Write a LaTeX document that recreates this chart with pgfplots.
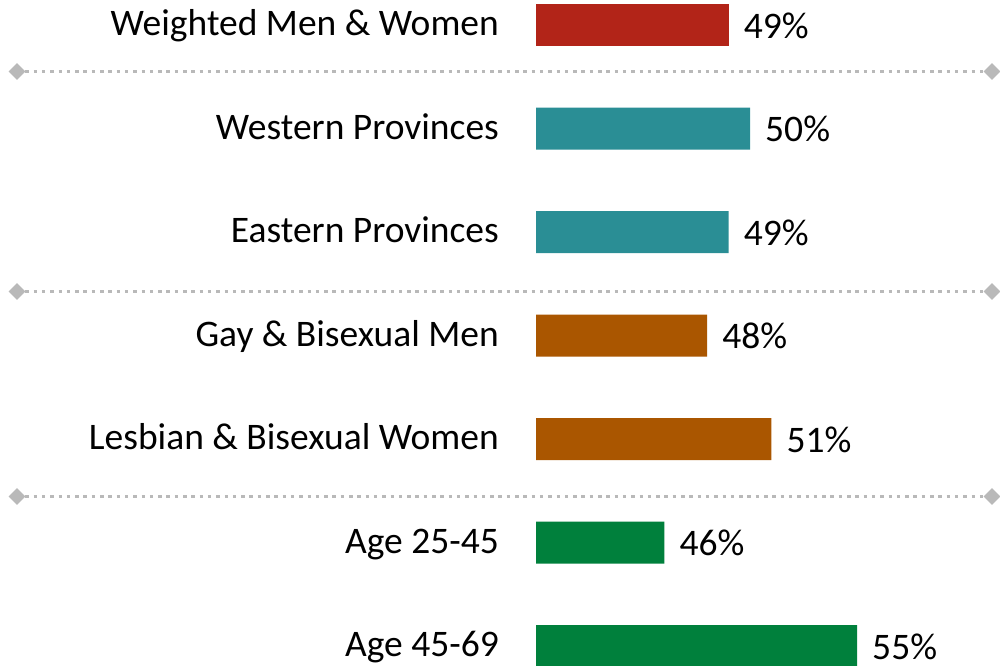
\documentclass[border=0pt]{standalone}
\usepackage{fontspec}
\setmainfont{Carlito}
\usepackage{pgfplots}
\pgfplotsset{compat=1.18}
\usetikzlibrary{shapes.geometric}

\definecolor{barred}{RGB}{178,36,24}
\definecolor{barteal}{RGB}{42,142,149}
\definecolor{barorange}{RGB}{170,86,0}
\definecolor{bargreen}{RGB}{0,128,60}
\definecolor{sepgray}{RGB}{185,185,185}

\tikzset{
  sepline/.style={sepgray, line width=3.5pt, dash pattern=on 3.5pt off 4.8pt},
  sepend/.style={diamond, fill=sepgray, inner sep=0pt, minimum width=17pt, minimum height=17pt},
}

\begin{document}
\begin{tikzpicture}
\path[use as bounding box] (0pt,0pt) rectangle (1000pt,665pt);

% separators between groups
\foreach \yy in {593.5,373.5,168.5}{
  \draw[sepline] (17pt,\yy pt) -- (992pt,\yy pt);
  \node[sepend] at (17pt,\yy pt) {};
  \node[sepend] at (992pt,\yy pt) {};
}

\begin{axis}[
  at={(536pt,0pt)}, anchor=south west,
  scale only axis, width=464pt, height=665pt,
  xmin=40, xmax=61.68,
  ymin=-0.2415, ymax=6.1836, y dir=reverse,
  axis line style={draw=none},
  tick style={draw=none},
  major tick length=0pt,
  xtick=\empty,
  ytick={0,1,2,3,4,5,6},
  yticklabels={Weighted Men \& Women, Western Provinces, Eastern Provinces,
    Gay \& Bisexual Men, Lesbian \& Bisexual Women, Age 25-45, Age 45-69},
  yticklabel style={anchor=base east, inner sep=0pt, xshift=-37pt, yshift=-10.5pt,
    font=\fontsize{37.5}{44}\selectfont},
  point meta=x,
  nodes near coords={\pgfmathprintnumber{\pgfplotspointmeta}\%},
  /pgf/number format/assume math mode=true,
  every node near coord/.style={anchor=base west, inner sep=0pt, xshift=15pt, yshift=-13pt,
    black, font=\fontsize{37.5}{44}\selectfont},
]
\addplot[xbar, bar width=42pt, bar shift=0pt, fill=barred, draw=none]
  coordinates {(49,0)};
\addplot[xbar, bar width=42pt, bar shift=0pt, fill=barteal, draw=none]
  coordinates {(50,1) (49,2)};
\addplot[xbar, bar width=42pt, bar shift=0pt, fill=barorange, draw=none]
  coordinates {(48,3) (51,4)};
\addplot[xbar, bar width=42pt, bar shift=0pt, fill=bargreen, draw=none]
  coordinates {(46,5) (55,6)};
\end{axis}
\end{tikzpicture}
\end{document}
